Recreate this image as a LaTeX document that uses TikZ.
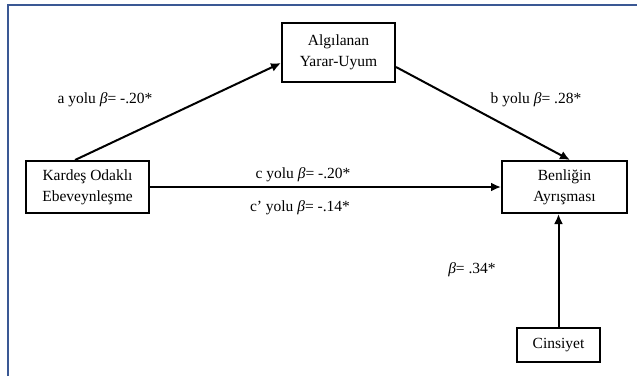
\documentclass[tikz,border=0pt]{standalone}
\usepackage{fontspec}
\setmainfont{Liberation Serif}
\usetikzlibrary{arrows.meta}
\definecolor{framec}{RGB}{58,88,148}
\tikzset{
  box/.style={draw=black, line width=2pt, fill=white, align=center, inner sep=0pt,
    font=\fontsize{15.5}{21}\selectfont},
  conn/.style={draw=black, line width=2pt, -{Latex[length=10pt,width=9pt]}},
  lbl/.style={font=\fontsize{15.5}{18}\selectfont, inner sep=0pt}
}
\newcommand{\bt}{\textit{β}}
\begin{document}
\begin{tikzpicture}[x=1pt,y=-1pt]
\useasboundingbox (0,0) rectangle (637,376);
\fill[white] (0,0) rectangle (637,376);
\draw[framec, line width=2pt] (8,376) -- (8,5) -- (637,5);
\node[box, minimum width=113pt, minimum height=59pt] (A) at (338.5,52.5) {Algılanan\\Yarar-Uyum};
\node[box, minimum width=123pt, minimum height=52pt] (K) at (87.5,187) {Kardeş Odaklı\\Ebeveynleşme};
\node[box, minimum width=125pt, minimum height=52pt] (B) at (564.5,187) {Benliğin\\Ayrışması};
\node[box, minimum width=83pt, minimum height=34pt] (C) at (558.5,345) {Cinsiyet};
\draw[conn] ([xshift=-12.5pt]K.north) -- ([yshift=-10.5pt]A.west);
\draw[conn] ([yshift=-14.5pt]A.east) -- ([xshift=5.5pt]B.north);
\draw[conn] (K.east) -- (B.west);
\draw[conn] (C.north) -- (C.north |- B.south);
\node[lbl] (la) at (105,100) {a yolu \bt= -.20*};
\node[lbl] (lb) at (536,100) {b yolu \bt= .28*};
\node[lbl] (lc) at (303,175) {c yolu \bt= -.20*};
\node[lbl] (lcp) at (300,208) {c’ yolu \bt= -.14*};
\node[lbl] (ls) at (472,270) {\bt= .34*};
\end{tikzpicture}
\end{document}
